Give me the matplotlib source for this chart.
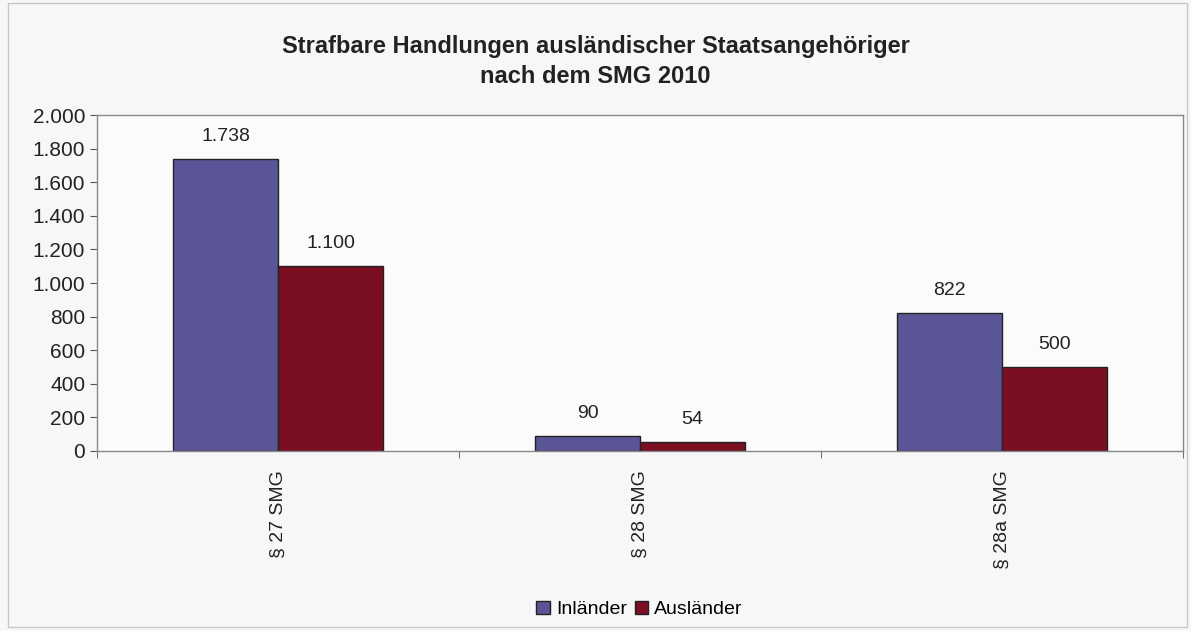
import numpy as np
import matplotlib.pyplot as plt
from matplotlib.ticker import FuncFormatter, FixedLocator

plt.rcParams['font.family'] = ['Liberation Sans', 'DejaVu Sans']

categories = ["§ 27 SMG", "§ 28 SMG", "§ 28a SMG"]
inlaender = [1738, 90, 822]
auslaender = [1100, 54, 500]
series_names = ["Inländer", "Ausländer"]


def de_fmt(v, pos=None):
    return f"{int(round(v)):,}".replace(",", ".")


fig = plt.figure(figsize=(11.91, 6.31), dpi=100)
fig.patch.set_facecolor("#f7f7f7")
ax = fig.add_axes([0.0814, 0.2853, 0.912, 0.5324])
ax.set_facecolor("#fbfbfb")

x = np.arange(len(categories))
w = 0.29
c_in = "#5a5596"
c_aus = "#7a0f22"
b1 = ax.bar(x - w / 2, inlaender, w, color=c_in, edgecolor="#222222", linewidth=1, label=series_names[0])
b2 = ax.bar(x + w / 2, auslaender, w, color=c_aus, edgecolor="#222222", linewidth=1, label=series_names[1])

for bars, vals in ((b1, inlaender), (b2, auslaender)):
    for r, v in zip(bars, vals):
        ax.annotate(de_fmt(v), (r.get_x() + r.get_width() / 2, v), xytext=(0, 10),
                    textcoords="offset points", ha="center", va="bottom", fontsize=14, color="#222222")

ax.set_xlim(-0.5, 2.5)
ax.set_ylim(0, 2000)
ax.set_yticks(np.arange(0, 2001, 200))
ax.yaxis.set_major_formatter(FuncFormatter(de_fmt))
ax.tick_params(axis="y", labelsize=15, length=5, direction="out", colors="#555555", labelcolor="#222222")

ax.set_xticks(x)
ax.set_xticklabels(categories, rotation=90, fontsize=14, color="#222222")
ax.tick_params(axis="x", length=0, pad=14)
ax.xaxis.set_minor_locator(FixedLocator([-0.5, 0.5, 1.5, 2.5]))
ax.tick_params(axis="x", which="minor", length=5, color="#555555")

for s in ax.spines.values():
    s.set_color("#888888")
    s.set_linewidth(1)

fig.text(0.5, 0.926, "Strafbare Handlungen ausländischer Staatsangehöriger", ha="center", va="center",
         fontsize=17, fontweight="bold", color="#222222")
fig.text(0.5, 0.879, "nach dem SMG 2010", ha="center", va="center",
         fontsize=17, fontweight="bold", color="#222222")

fig.legend(loc="center", bbox_to_anchor=(0.537, 0.034), ncol=2, frameon=False, fontsize=14,
           handlelength=0.7, handleheight=0.7, handletextpad=0.3, columnspacing=0.4)

# outer chart frame
fig.patches.append(plt.Rectangle((0.007, 0.006), 0.99, 0.99, transform=fig.transFigure,
                                 fill=False, edgecolor="#c8c8c8", linewidth=1))

fig.savefig("out.png", dpi=100, facecolor=fig.get_facecolor())
